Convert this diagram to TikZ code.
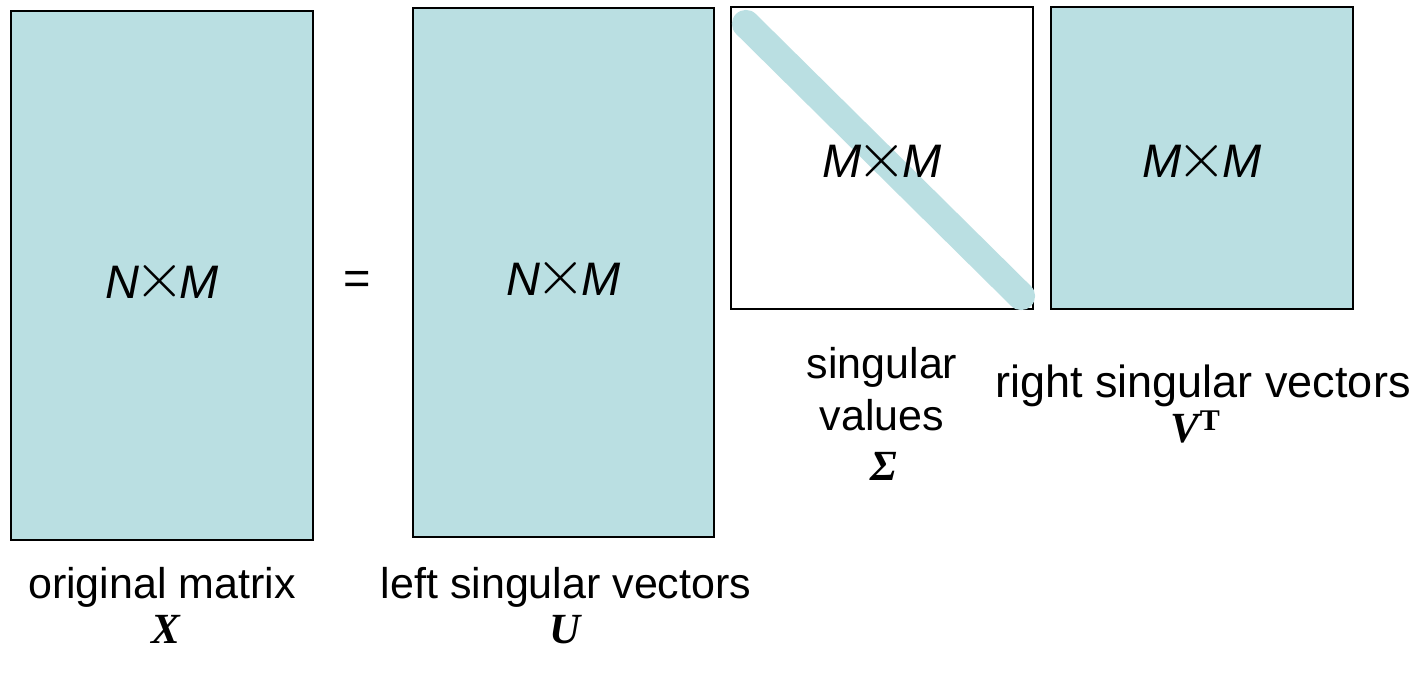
\documentclass[tikz,border=0pt]{standalone}
\usepackage{fontspec}
\usepackage{graphicx}
\setmainfont{Liberation Sans}
\newfontfamily\mserif{Liberation Serif}
\definecolor{mfill}{RGB}{186,223,226}
\newcommand{\mbf}[1]{{\mserif\bfseries\itshape #1}}
\newcommand{\tms}{\kern-5pt\raisebox{0.5pt}{\scalebox{6.5}{\fontsize{10}{12}\selectfont$\times$}}\kern-5pt}
\newcommand{\dimtxt}[2]{{\itshape #1}\tms{\itshape #2}}
\begin{document}
\begin{tikzpicture}[x=1pt,y=-1pt,
  mat/.style={draw=black,line width=2.2pt,fill=mfill,inner sep=0pt},
  lbl/.style={anchor=base,inner sep=0pt,font=\fontsize{43}{50}\selectfont},
  dimlbl/.style={inner sep=0pt,font=\fontsize{47}{54}\selectfont}]
\useasboundingbox (0,0) rectangle (1425,674);
% matrices
\node[mat,minimum width=302pt,minimum height=529pt] (X) at (162,275.5) {};
\node[mat,minimum width=301pt,minimum height=529pt] (U) at (563.5,272.5) {};
\node[mat,fill=white,minimum width=302pt,minimum height=302pt] (S) at (882,158) {};
\node[mat,minimum width=302pt,minimum height=302pt] (V) at (1202,158) {};
% diagonal of Sigma
\coordinate (d1) at ([shift={(16,18)}]S.north west);
\coordinate (d2) at ([shift={(-13,-14)}]S.south east);
\draw[mfill,line width=28pt,line cap=round] (d1) -- (d2);
% dimension texts
\node[dimlbl] (Xt) at ([yshift=-6pt]X.center) {\dimtxt{N}{M}};
\node[dimlbl] (Ut) at ([yshift=-6pt]U.center) {\dimtxt{N}{M}};
\node[dimlbl] (St) at ([yshift=-3pt]S.center) {\dimtxt{M}{M}};
\node[dimlbl] (Vt) at ([yshift=-3pt]V.center) {\dimtxt{M}{M}};
% equals
\node[inner sep=0pt,font=\fontsize{47}{54}\selectfont] (eq) at (357,283) {=};
% labels
\node[lbl] (lx1) at (162,598) {original matrix};
\node[lbl] (lx2) at (166,643) {\mbf{X}};
\node[lbl] (lu1) at (566,598) {left singular vectors};
\node[lbl] (lu2) at (565,643) {\mbf{U}};
\node[lbl] (ls1) at (882,378) {singular};
\node[lbl] (ls2) at (882,430) {values};
\node[lbl] (ls3) at (884,480) {\mbf{Σ}};
\node[lbl,font=\fontsize{45}{52}\selectfont] (lv1) at (1203,397) {right singular vectors};
\node[lbl] (lv2) at (1195,442) {\mbf{V}\kern1pt\raisebox{12pt}{\fontsize{30}{30}\selectfont\mserif\bfseries T}};
\end{tikzpicture}
\end{document}
